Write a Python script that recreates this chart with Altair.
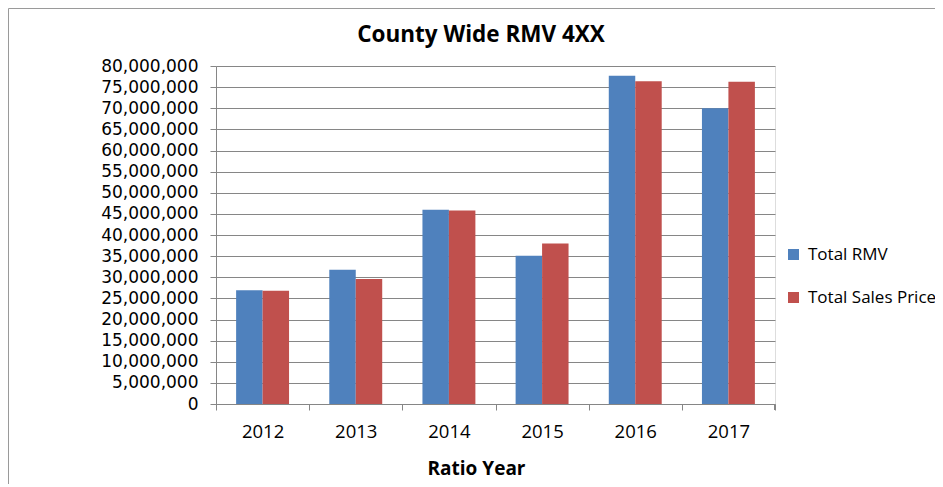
import altair as alt
import pandas as pd

years = ["2012", "2013", "2014", "2015", "2016", "2017"]
series_names = ["Total RMV", "Total Sales Price"]
total_rmv = [26900000, 31800000, 46000000, 35100000, 77700000, 70000000]
total_sales = [26800000, 29600000, 45800000, 38000000, 76400000, 76300000]
y_ticks = list(range(0, 80000001, 5000000))
colors = ["#4F81BD", "#C0504D"]
chart_title = "County Wide RMV 4XX"

rows = []
for i, y in enumerate(years):
    rows.append({"Year": y, "Series": series_names[0], "Value": total_rmv[i]})
    rows.append({"Year": y, "Series": series_names[1], "Value": total_sales[i]})
df = pd.DataFrame(rows)
title_df = pd.DataFrame({"title": [chart_title]})

FONT = "Open Sans"
W, H = 559, 338

bars = alt.Chart(df).mark_bar(stroke=None).encode(
    x=alt.X("Year:N", sort=years,
            scale=alt.Scale(paddingInner=0, paddingOuter=0),
            axis=alt.Axis(title="Ratio Year", labelAngle=0, labelFontSize=18.5,
                          labelFont=FONT, labelColor="#000", labelPadding=12,
                          tickSize=6, tickColor="#868686", domainColor="#868686",
                          tickBand="extent",
                          titleFont=FONT, titleFontSize=19, titleFontWeight="bold",
                          titleColor="#000", titleX=260, titleY=70,
                          titleBaseline="alphabetic", grid=False)),
    xOffset=alt.XOffset("Series:N", sort=series_names,
                        scale=alt.Scale(paddingInner=0, paddingOuter=0.76)),
    y=alt.Y("Value:Q", scale=alt.Scale(domain=[0, 80000000], nice=False),
            axis=alt.Axis(title=None, values=y_ticks, format=",d",
                          labelFont="DejaVu Sans", labelFontSize=17,
                          labelColor="#000",
                          labelPadding=12, tickSize=6, tickColor="#868686",
                          domainColor="#868686", gridColor="#868686",
                          gridOpacity=1, labelBaseline="middle",
                          labelFlush=False)),
    color=alt.Color("Series:N", sort=series_names,
                    scale=alt.Scale(domain=series_names, range=colors),
                    legend=alt.Legend(title=None, orient="none", legendX=569,
                                      legendY=180, symbolType="square",
                                      symbolSize=121, symbolStrokeWidth=0,
                                      labelFont=FONT, labelFontSize=17,
                                      labelColor="#000", labelOffset=6,
                                      rowPadding=25, padding=0,
                                      labelLimit=300)),
)

title_text = alt.Chart(title_df).mark_text(
    font=FONT, fontSize=22.5, fontWeight="bold", color="#000",
    align="center", baseline="middle").encode(
    text="title:N", x=alt.value(265), y=alt.value(-31))

frame_top = alt.Chart(title_df).mark_rule(color="#9a9a9a", strokeWidth=1).encode(
    x=alt.value(-207.5), x2=alt.value(W + 200), y=alt.value(-57.5))
frame_left = alt.Chart(title_df).mark_rule(color="#9a9a9a", strokeWidth=1).encode(
    x=alt.value(-207.5), y=alt.value(-57.5), y2=alt.value(H + 90))
end_tick = alt.Chart(title_df).mark_rule(color="#868686", strokeWidth=1).encode(
    x=alt.value(W - 0.5), y=alt.value(H), y2=alt.value(H + 6))

chart = alt.layer(bars, title_text, frame_top, frame_left, end_tick).properties(
    width=W, height=H,
    autosize=alt.AutoSizeParams(type="none"),
    padding={"left": 208, "top": 58, "right": 160, "bottom": 80},
).configure_view(stroke=None).configure(background="white")

chart.save("out.html", embed_options={"renderer": "svg", "actions": False})
